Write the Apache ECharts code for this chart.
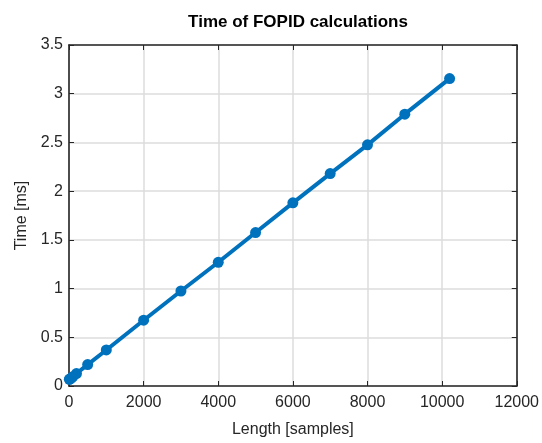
<!DOCTYPE html>
<html><head><meta charset="utf-8">
<script src="https://cdn.jsdelivr.net/npm/echarts@6/dist/echarts.min.js"></script>
<style>html,body{margin:0;padding:0;background:#fff}#c{width:542px;height:443px}</style>
</head><body><div id="c"></div>
<script>
const lengths = [10, 20, 50, 100, 200, 500, 1000, 2000, 3000, 4000, 5000, 6000, 7000, 8000, 9000, 10200];
const times   = [0.068, 0.07, 0.078, 0.095, 0.128, 0.22, 0.37, 0.675, 0.975, 1.27, 1.575, 1.88, 2.18, 2.475, 2.79, 3.155];
const xTicks = [0, 2000, 4000, 6000, 8000, 10000, 12000];
const yTicks = [0, 0.5, 1, 1.5, 2, 2.5, 3, 3.5];
const titleText = 'Time of FOPID calculations';
const xName = 'Length [samples]';
const yName = 'Time [ms]';

const font = 'Liberation Sans, Helvetica, Arial, sans-serif';
const txt = '#262626';
const chart = echarts.init(document.getElementById('c'), null, {renderer: 'canvas'});
function tick() { return {show: true, inside: true, length: 5, lineStyle: {color: txt, width: 1}}; }
function line() { return {show: true, onZero: false, lineStyle: {color: txt, width: 1.6}}; }
const split = {show: true, lineStyle: {color: '#dcdcdc', width: 1.5}};
chart.setOption({
  animation: false,
  title: {text: titleText, left: 293, top: 9, textAlign: 'center',
    textStyle: {fontFamily: font, fontSize: 17, fontWeight: 'bold', color: '#000'}},
  grid: {left: 69, right: 25, top: 45, bottom: 54, show: false},
  xAxis: [
    {type: 'value', min: xTicks[0], max: xTicks[xTicks.length-1], interval: xTicks[1]-xTicks[0],
      name: xName, nameLocation: 'middle', nameGap: 36,
      nameTextStyle: {fontFamily: font, fontSize: 16, color: txt},
      axisLine: line(), axisTick: tick(),
      axisLabel: {fontFamily: font, fontSize: 16, color: txt, margin: 9, formatter: v => String(v)},
      splitLine: split},
    {type: 'value', position: 'top', min: xTicks[0], max: xTicks[xTicks.length-1], interval: xTicks[1]-xTicks[0],
      axisLine: line(), axisTick: tick(), axisLabel: {show: false}, splitLine: {show: false}}
  ],
  yAxis: [
    {type: 'value', min: yTicks[0], max: yTicks[yTicks.length-1], interval: yTicks[1]-yTicks[0],
      name: yName, nameLocation: 'middle', nameGap: 38,
      nameTextStyle: {fontFamily: font, fontSize: 16, color: txt},
      axisLine: line(), axisTick: tick(),
      axisLabel: {fontFamily: font, fontSize: 16, color: txt, margin: 6, formatter: v => String(v)},
      splitLine: split},
    {type: 'value', position: 'right', min: yTicks[0], max: yTicks[yTicks.length-1], interval: yTicks[1]-yTicks[0],
      axisLine: line(), axisTick: tick(), axisLabel: {show: false}, splitLine: {show: false}}
  ],
  series: [{
    type: 'line', xAxisIndex: 0, yAxisIndex: 0,
    data: lengths.map((x, i) => [x, times[i]]),
    symbol: 'circle', symbolSize: 11,
    lineStyle: {color: '#0072BD', width: 4},
    itemStyle: {color: '#0072BD'},
    clip: false, z: 5
  }]
});
</script></body></html>
